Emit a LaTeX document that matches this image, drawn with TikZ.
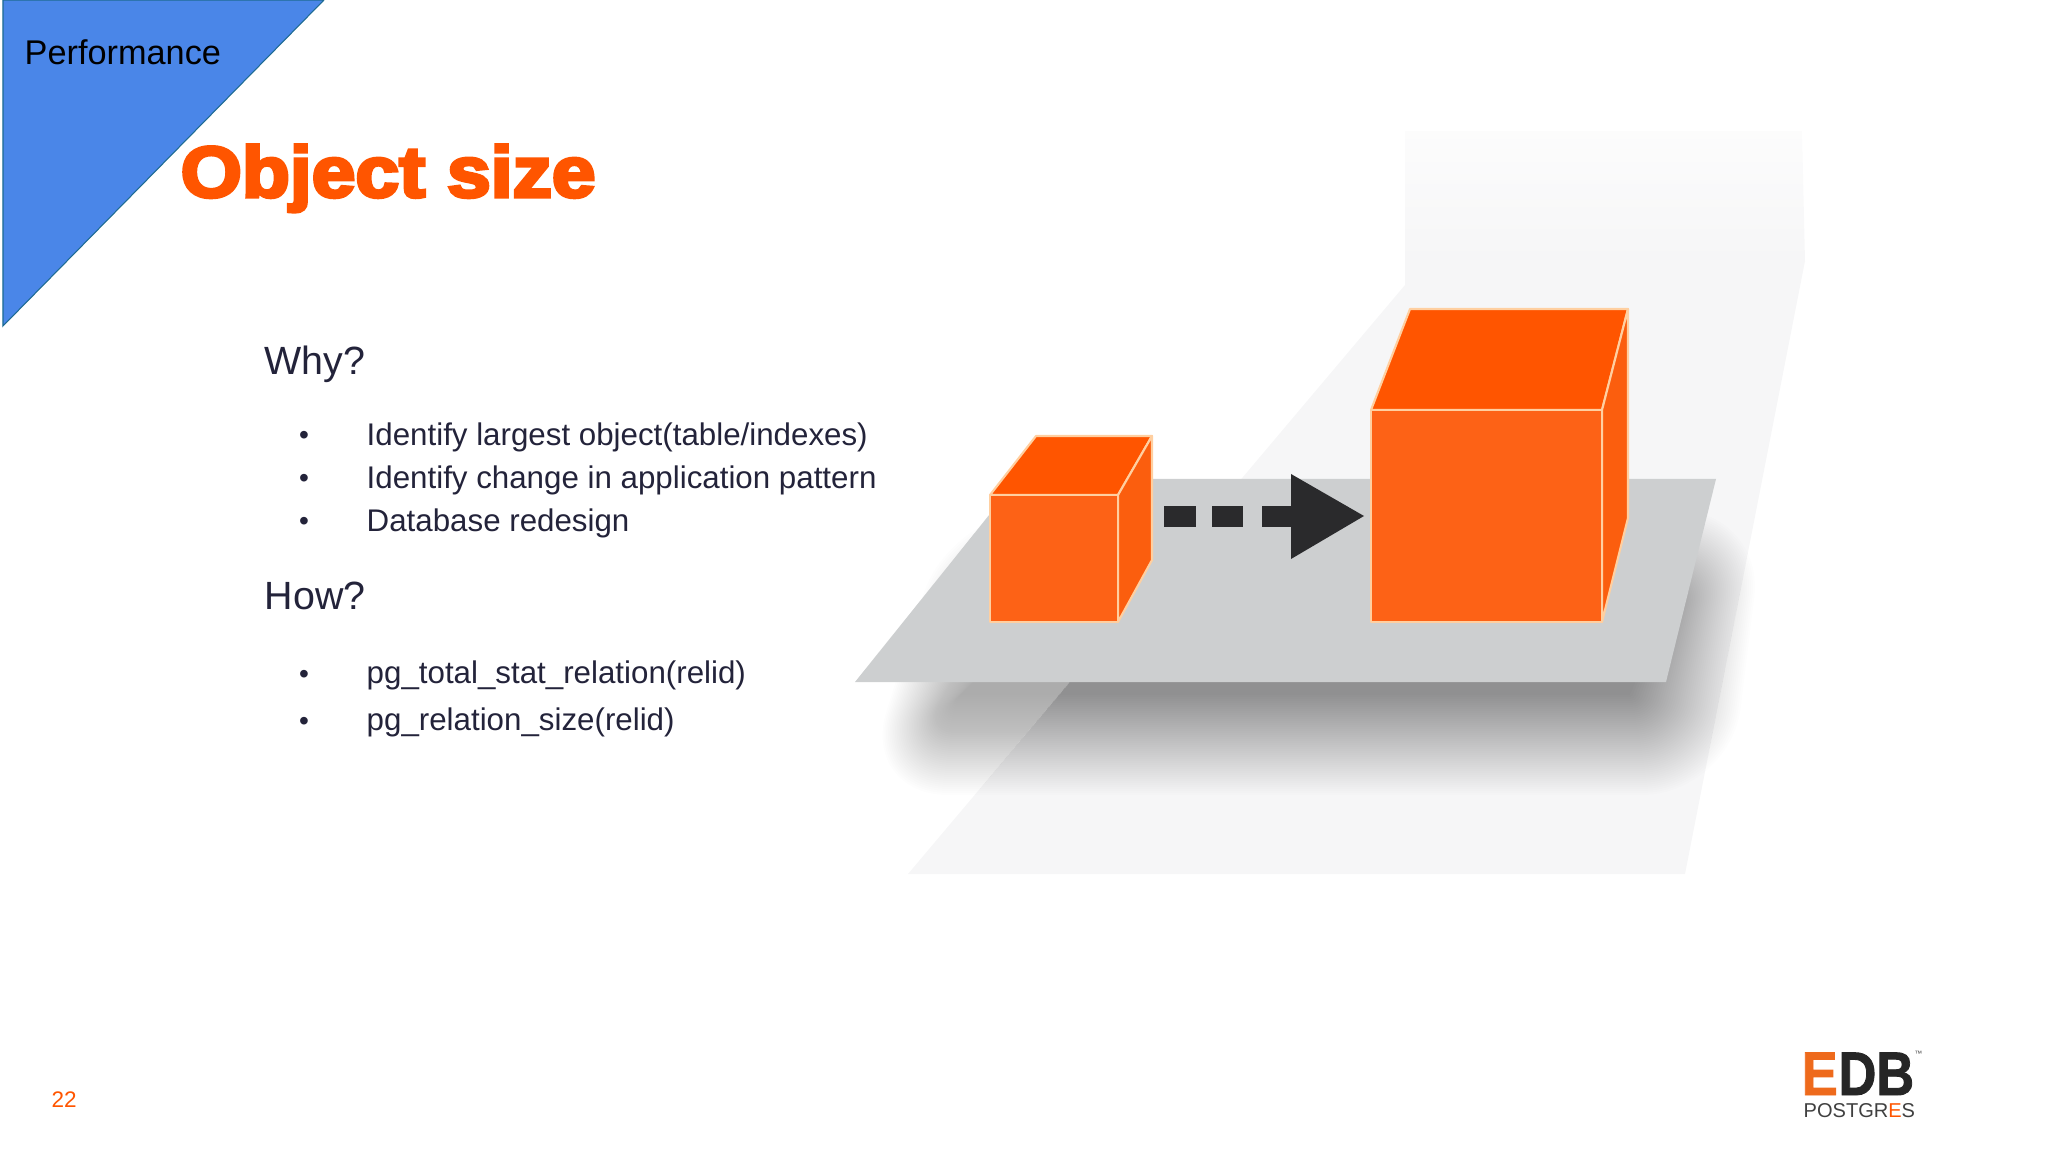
\documentclass[tikz,border=0pt]{standalone}
\usepackage{fontspec}
\setmainfont{Liberation Sans}
\newfontfamily\titlefont[FakeBold=4.5]{Liberation Sans Bold}
\newfontfamily\logofont[FakeBold=1.5]{Liberation Sans Bold}
\definecolor{edborange}{HTML}{FF5500}
\definecolor{logoorange}{HTML}{EE6A1C}
\definecolor{cubefront}{HTML}{FD6216}
\definecolor{cubeside}{HTML}{FB5E0E}
\definecolor{cubeedge}{HTML}{FFCFA0}
\definecolor{slideblue}{HTML}{4A86E8}
\definecolor{bodyink}{HTML}{23233A}
\definecolor{arrowink}{HTML}{2A2A2C}
\definecolor{plategray}{HTML}{CDCFD0}
\definecolor{backdrop}{HTML}{F6F6F7}
\tikzset{
x=0.01cm, y=-0.01cm, % one unit is one pixel of the slide
heading/.style={anchor=base west, inner sep=0pt, text=bodyink, font=\fontsize{11.2}{13}\selectfont},
item/.style={anchor=base west, inner sep=0pt, text=bodyink, font=\fontsize{8.9}{10}\selectfont},
bullet/.style={anchor=base, inner sep=0pt, text=bodyink, font=\fontsize{8}{10}\selectfont},
cubeface/.style={draw=cubeedge, line width=0.6pt, line join=round},
}

\begin{document}
\begin{tikzpicture}
    \useasboundingbox (0,0) rectangle (2048,1152);
    % corner flag
    \draw[fill=slideblue, draw=black!30!teal!60!slideblue, line width=0.3pt] (3,0) -- (324,0) -- (3,326) -- cycle;
    \node[anchor=base west, inner sep=0pt, font=\fontsize{9.75}{12}\selectfont] (section) at (24,65) {Performance};
    \node[anchor=base west, inner sep=0pt, text=edborange, font=\titlefont\fontsize{20.5}{25}\selectfont, xscale=1.09] (title) at (180,197) {Object size};
    % text block
    \node[heading] (why) at (264,375) {Why?};
    \node[item] (why1) at (366,446) {Identify largest object(table/indexes)};
    \node[item] (why2) at (366,489) {Identify change in application pattern};
    \node[item] (why3) at (366,532) {Database redesign};
    \node[heading] (how) at (264,610) {How?};
    \node[item] (how1) at (366,683) {pg\_total\_stat\_relation(relid)};
    \node[item] (how2) at (366,730) {pg\_relation\_size(relid)};
    \foreach \name/\ypos in {why1/445, why2/488, why3/531, how1/683, how2/730}
        \node[bullet] (dot\name) at (304,\ypos) {•};
    % backdrop
    \fill[backdrop] (1405,261) -- (1805,261) -- (1685,874) -- (908,874) -- (1405,285) -- cycle;
    \shade[top color=backdrop!35!white, bottom color=backdrop] (1405,131) -- (1802,131) -- (1805,262) -- (1405,262) -- cycle;
    % shadow under the plate
    \foreach \i in {0,2,...,100}
        \fill[black, opacity=0.0085, rounded corners=\i*0.25pt] ({960-\i},{695+\i}) -- ({1630+\i},{695+\i}) -- ({1665+\i},{610-\i}) -- ({1050-\i},{610-\i}) -- cycle;
    % plate
    \fill[plategray] (855,682) -- (1666,682) -- (1716,479) -- (1018,479) -- cycle;
    % small cube
    \draw[cubeface, fill=edborange] (990,495) -- (1036,436) -- (1152,436) -- (1118,495) -- cycle;
    \draw[cubeface, fill=cubeside] (1118,495) -- (1152,436) -- (1152,560) -- (1118,622) -- cycle;
    \draw[cubeface, fill=cubefront] (990,495) rectangle (1118,622);
    % big cube
    \draw[cubeface, fill=edborange] (1371,410) -- (1410,309) -- (1628,309) -- (1602,410) -- cycle;
    \draw[cubeface, fill=cubeside] (1602,410) -- (1628,309) -- (1628,518) -- (1602,622) -- cycle;
    \draw[cubeface, fill=cubefront] (1371,410) rectangle (1602,622);
    % dashed arrow
    \foreach \xa/\xb in {1164/1196, 1212/1243, 1262/1292}
        \fill[arrowink] (\xa,506) rectangle (\xb,527);
    \fill[arrowink] (1291,474) -- (1364,516) -- (1291,559) -- cycle;
    % footer
    \node[anchor=base west, inner sep=0pt, text=edborange, font=\fontsize{6.4}{8}\selectfont] (page) at (51,1107) {22};
    \node[anchor=base west, inner sep=0pt, text=logoorange, font=\logofont\fontsize{17.5}{19}\selectfont, xscale=0.88] (logoE) at (1801,1095) {E};
    \node[anchor=base west, inner sep=0pt, text=black!85, font=\logofont\fontsize{17.5}{19}\selectfont, xscale=0.85] (logoDB) at (1838,1095) {DB};
    \node[anchor=base west, inner sep=0pt, text=black!70, font=\fontsize{2.2}{3}\selectfont] (logoTM) at (1914,1056) {™};
    \node[anchor=base west, inner sep=0pt, text=black!75, font=\fontsize{5.7}{7}\selectfont] (logoP) at (1803,1117) {POSTGR\textcolor{edborange}{E}S};
\end{tikzpicture}
\end{document}
